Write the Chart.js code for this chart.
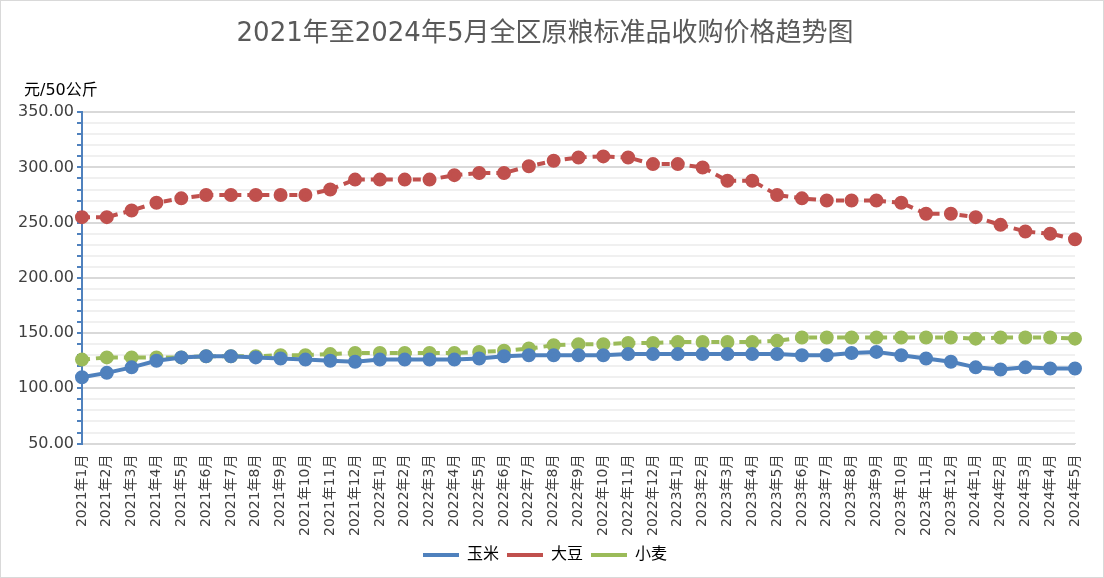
<!DOCTYPE html>
<html>
<head>
<meta charset="utf-8">
<script src="https://cdn.jsdelivr.net/npm/chart.js@4"></script>
<style>
  body { margin: 0; background: #fff; }
  #wrap { position: absolute; left: 0; top: 0; width: 1102px; height: 576px; border: 1px solid #d9d9d9; }
  #yname { position: absolute; left: 24px; top: 76px; font: 16px "DejaVu Sans", "Noto Sans CJK SC", sans-serif; color: #000; }
</style>
</head>
<body>
<div id="wrap"><canvas id="chart" width="1102" height="576"></canvas></div>
<div id="yname">元/50公斤</div>
<script>
const months = [];
for (let y = 2021; y <= 2024; y++) {
  const last = y === 2024 ? 5 : 12;
  for (let m = 1; m <= last; m++) months.push(y + '年' + m + '月');
}
const corn = [110,114,119,125,128,129,129,128,127,126,125,124,126,126,126,126,127,129,130,130,130,130,131,131,131,131,131,131,131,130,130,132,133,130,127,124,119,117,119,118,118];
const soybean = [255,255,261,268,272,275,275,275,275,275,280,289,289,289,289,293,295,295,301,306,309,310,309,303,303,300,288,288,275,272,270,270,270,268,258,258,255,248,242,240,235];
const wheat = [126,128,128,128,128,129,129,129,130,130,131,132,132,132,132,132,133,134,136,139,140,140,141,141,142,142,142,142,143,146,146,146,146,146,146,146,145,146,146,146,145];

const font = "'DejaVu Sans', 'Noto Sans CJK SC', sans-serif";

function series(label, data, color, dash) {
  return {
    label: label, data: data,
    borderColor: color, backgroundColor: color,
    borderWidth: 4, borderDash: dash,
    pointRadius: 5, pointHoverRadius: 5,
    pointBackgroundColor: color, pointBorderColor: color,
    tension: 0
  };
}

new Chart(document.getElementById('chart'), {
  type: 'line',
  data: {
    labels: months,
    datasets: [
      series('玉米', corn, '#4f81bd', []),
      series('大豆', soybean, '#c0504d', [8, 6]),
      series('小麦', wheat, '#9bbb59', [8, 6])
    ]
  },
  options: {
    responsive: false,
    animation: false,
    layout: { padding: { left: 14, right: 28, top: 0, bottom: 4 } },
    plugins: {
      title: {
        display: true,
        text: '2021年至2024年5月全区原粮标准品收购价格趋势图',
        color: '#595959',
        font: { family: font, size: 26, weight: 'normal' },
        padding: { top: 18, bottom: 62 }
      },
      legend: {
        position: 'bottom',
        labels: {
          color: '#595959',
          font: { family: font, size: 16 },
          boxWidth: 36, boxHeight: 4,
          padding: 8,
          generateLabels: chart => chart.data.datasets.map((d, i) => ({
            text: d.label, fillStyle: d.borderColor, strokeStyle: d.borderColor,
            lineWidth: 0, datasetIndex: i
          }))
        }
      },
      tooltip: { enabled: false }
    },
    scales: {
      x: {
        offset: false,
        grid: { display: false },
        border: { display: true, color: '#d9d9d9' },
        ticks: {
          color: '#404040', autoSkip: false, maxRotation: 90, minRotation: 90,
          font: { family: font, size: 14 }
        }
      },
      y: {
        min: 50, max: 350,
        afterBuildTicks: axis => {
          const t = [];
          for (let v = 50; v <= 350; v += 10) t.push({ value: v });
          axis.ticks = t;
        },
        border: { display: true, color: '#4f81bd', width: 2 },
        grid: {
          color: ctx => ctx.tick && ctx.tick.value % 50 === 0 ? '#d9d9d9' : '#f0f0f0',
          lineWidth: 2,
          tickLength: 5,
          tickColor: '#4f81bd'
        },
        ticks: {
          autoSkip: false,
          color: '#404040',
          font: { family: font, size: 16 },
          callback: v => v % 50 === 0 ? v.toFixed(2) : ''
        }
      }
    }
  }
});
</script>
</body>
</html>
